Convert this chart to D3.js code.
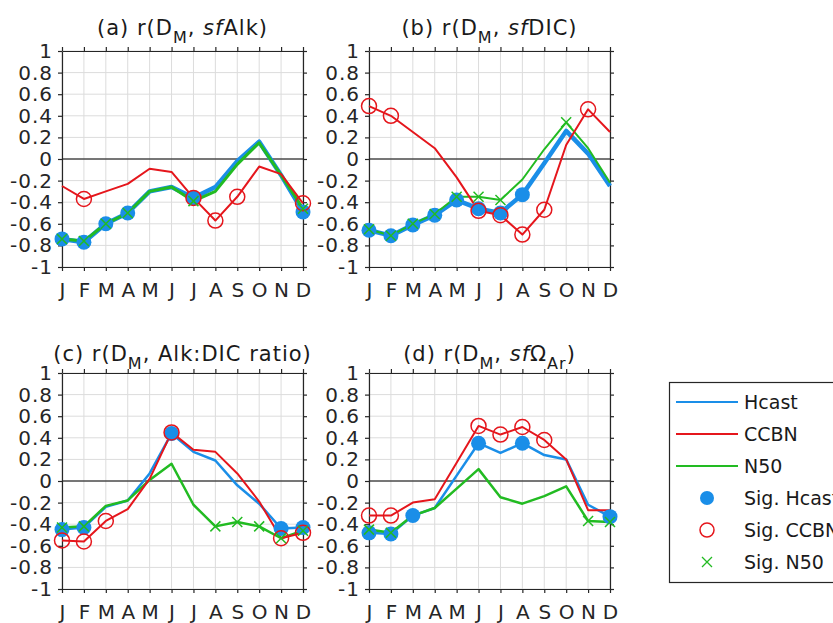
<!DOCTYPE html>
<html>
<head>
<meta charset="utf-8">
<script src="https://cdn.jsdelivr.net/npm/d3@7"></script>
<style>
  body { margin: 0; background: #fff; }
  svg { display: block; font-family: "DejaVu Sans", sans-serif; }
</style>
</head>
<body>
<div id="grafico"></div>
<script>
//------------------------------ Datos --------------
const meses = ["J", "F", "M", "A", "M", "J", "J", "A", "S", "O", "N", "D"];
const ticksY = [-1, -0.8, -0.6, -0.4, -0.2, 0, 0.2, 0.4, 0.6, 0.8, 1];
const series = ["Hcast", "CCBN", "N50"];

// (a) r(DM, sfAlk)
const hcastA = [-0.74, -0.77, -0.60, -0.50, -0.30, -0.26, -0.36, -0.26, -0.02, 0.16, -0.15, -0.49];
const ccbnA  = [-0.25, -0.37, -0.30, -0.23, -0.09, -0.12, -0.36, -0.57, -0.35, -0.07, -0.14, -0.41];
const n50A   = [-0.74, -0.76, -0.60, -0.50, -0.30, -0.26, -0.39, -0.30, -0.05, 0.15, -0.15, -0.46];
const sigHcastA = [0, 1, 2, 3, 6, 11];
const sigCcbnA  = [1, 6, 7, 8, 11];
const sigN50A   = [0, 1, 2, 3, 6, 11];

// (b) r(DM, sfDIC)
const hcastB = [-0.66, -0.71, -0.61, -0.52, -0.38, -0.46, -0.50, -0.33, -0.04, 0.26, 0.05, -0.25];
const ccbnB  = [0.49, 0.40, 0.25, 0.10, -0.17, -0.48, -0.52, -0.70, -0.47, 0.13, 0.46, 0.25];
const n50B   = [-0.65, -0.71, -0.60, -0.51, -0.35, -0.35, -0.38, -0.19, 0.09, 0.34, 0.10, -0.22];
const sigHcastB = [0, 1, 2, 3, 4, 5, 6, 7];
const sigCcbnB  = [0, 1, 5, 6, 7, 8, 10];
const sigN50B   = [0, 1, 2, 3, 4, 5, 6, 9];

// (c) r(DM, Alk:DIC ratio)
const hcastC = [-0.45, -0.43, -0.24, -0.18, 0.07, 0.44, 0.27, 0.19, -0.04, -0.21, -0.44, -0.43];
const ccbnC  = [-0.55, -0.56, -0.37, -0.26, 0.02, 0.45, 0.29, 0.27, 0.07, -0.19, -0.53, -0.48];
const n50C   = [-0.43, -0.42, -0.23, -0.18, 0.01, 0.16, -0.22, -0.42, -0.38, -0.42, -0.53, -0.46];
const sigHcastC = [0, 1, 5, 10, 11];
const sigCcbnC  = [0, 1, 2, 5, 10, 11];
const sigN50C   = [0, 1, 7, 8, 9, 10, 11];

// (d) r(DM, sfΩAr)
const hcastD = [-0.48, -0.49, -0.32, -0.25, 0.05, 0.35, 0.26, 0.35, 0.24, 0.20, -0.22, -0.33];
const ccbnD  = [-0.32, -0.32, -0.20, -0.17, 0.17, 0.51, 0.43, 0.50, 0.38, 0.20, -0.27, -0.27];
const n50D   = [-0.45, -0.48, -0.32, -0.25, -0.07, 0.11, -0.15, -0.21, -0.14, -0.05, -0.37, -0.38];
const sigHcastD = [0, 1, 2, 5, 7, 11];
const sigCcbnD  = [0, 1, 5, 6, 7, 8];
const sigN50D   = [0, 1, 10, 11];

//------------------------------ Estilos --------------
const colores = { Hcast: "#1a8ee8", CCBN: "#e5161c", N50: "#22bb22" };
const ancho = 241;
const alto = 216;

const paneles = [
  { left: 62,  top: 51,  tituloY: 35,  etiqueta: "(a)", variable: [["sf", "i"], ["Alk", ""]],
    datos: [hcastA, ccbnA, n50A], sig: [sigHcastA, sigCcbnA, sigN50A], grosor: [4.5, 2, 3] },
  { left: 369, top: 51,  tituloY: 35,  etiqueta: "(b)", variable: [["sf", "i"], ["DIC", ""]],
    datos: [hcastB, ccbnB, n50B], sig: [sigHcastB, sigCcbnB, sigN50B], grosor: [4.5, 2, 2] },
  { left: 62,  top: 373, tituloY: 361, etiqueta: "(c)", variable: [["Alk:DIC ratio", ""]],
    datos: [hcastC, ccbnC, n50C], sig: [sigHcastC, sigCcbnC, sigN50C], grosor: [2.5, 2, 2.5] },
  { left: 369, top: 373, tituloY: 361, etiqueta: "(d)", variable: [["sf", "i"], ["Ω", ""], ["Ar", "sub"]],
    datos: [hcastD, ccbnD, n50D], sig: [sigHcastD, sigCcbnD, sigN50D], grosor: [2.5, 2, 2.5] }
];

const svg = d3.select("#grafico")
  .append("svg")
  .attr("width", 833)
  .attr("height", 623);

// Titulo con subindices
function titulo(g, panel) {
  const t = g.append("text")
    .attr("x", panel.left + ancho / 2)
    .attr("y", panel.tituloY)
    .attr("text-anchor", "middle")
    .attr("font-size", 21)
    .attr("letter-spacing", 1)
    .attr("fill", "#1a1a1a");
  t.append("tspan").text(panel.etiqueta + " r(D");
  t.append("tspan").attr("font-size", 16).attr("dy", 8).text("M");
  t.append("tspan").attr("dy", -8).text(", ");
  let abajo = false;
  panel.variable.forEach(([txt, estilo]) => {
    const s = t.append("tspan").text(txt);
    if (estilo === "i") s.attr("font-style", "italic");
    if (estilo === "sub") { s.attr("font-size", 16).attr("dy", 8); abajo = true; }
  });
  t.append("tspan").attr("dy", abajo ? -8 : 0).text(")");
}

function graficar(panel) {
  const x = d3.scalePoint().domain(d3.range(12)).range([panel.left, panel.left + ancho]);
  const y = d3.scaleLinear().domain([-1, 1]).range([panel.top + alto, panel.top]);
  const g = svg.append("g");

  // rejilla
  g.selectAll(".gx").data(d3.range(12)).enter().append("line")
    .attr("x1", d => x(d)).attr("x2", d => x(d))
    .attr("y1", panel.top).attr("y2", panel.top + alto)
    .attr("stroke", "#dcdcdc").attr("stroke-width", 1);
  g.selectAll(".gy").data(ticksY).enter().append("line")
    .attr("x1", panel.left).attr("x2", panel.left + ancho)
    .attr("y1", d => y(d)).attr("y2", d => y(d))
    .attr("stroke", "#dcdcdc").attr("stroke-width", 1);

  // linea del cero
  g.append("line")
    .attr("x1", panel.left).attr("x2", panel.left + ancho)
    .attr("y1", y(0)).attr("y2", y(0))
    .attr("stroke", "#000").attr("stroke-width", 1);

  // ejes
  const fmt = d => String(d);
  const estiloEje = (sel, espacio) => {
    sel.selectAll("path").attr("stroke", "#262626").attr("stroke-width", 1.2);
    sel.selectAll("line").attr("stroke", "#262626").attr("stroke-width", 1.2);
    sel.selectAll("text").attr("fill", "#262626").attr("font-family", "DejaVu Sans")
      .attr("font-size", 20).attr("letter-spacing", espacio || 0);
  };
  g.append("g").attr("transform", `translate(${panel.left},0)`)
    .call(d3.axisLeft(y).tickValues(ticksY).tickFormat(fmt).tickSize(4).tickSizeOuter(0).tickPadding(5))
    .call(estiloEje, 1);
  g.append("g").attr("transform", `translate(${panel.left + ancho},0)`)
    .call(d3.axisRight(y).tickValues(ticksY).tickFormat("").tickSize(4).tickSizeOuter(0))
    .call(estiloEje);
  g.append("g").attr("transform", `translate(0,${panel.top + alto})`)
    .call(d3.axisBottom(x).tickFormat(i => meses[i]).tickSize(4).tickSizeOuter(0).tickPadding(11.5))
    .call(estiloEje);
  g.append("g").attr("transform", `translate(0,${panel.top})`)
    .call(d3.axisTop(x).tickFormat("").tickSize(4).tickSizeOuter(0))
    .call(estiloEje);

  // lineas de cada serie (Hcast, N50, CCBN)
  const linea = d3.line().x((d, i) => x(i)).y(d => y(d));
  [0, 2, 1].forEach(k => {
    g.append("path")
      .attr("d", linea(panel.datos[k]))
      .attr("fill", "none")
      .attr("stroke", colores[series[k]])
      .attr("stroke-width", panel.grosor[k])
      .attr("stroke-linejoin", "round");
  });

  // marcadores de significancia
  g.selectAll(".sh").data(panel.sig[0]).enter().append("circle")
    .attr("cx", i => x(i)).attr("cy", i => y(panel.datos[0][i]))
    .attr("r", 7.5).attr("fill", colores.Hcast);
  g.selectAll(".sc").data(panel.sig[1]).enter().append("circle")
    .attr("cx", i => x(i)).attr("cy", i => y(panel.datos[1][i]))
    .attr("r", 7.5).attr("fill", "none").attr("stroke", colores.CCBN).attr("stroke-width", 1.5);
  g.selectAll(".sn").data(panel.sig[2]).enter().append("path")
    .attr("transform", i => `translate(${x(i)},${y(panel.datos[2][i])})`)
    .attr("d", "M-5,-5L5,5M-5,5L5,-5")
    .attr("stroke", colores.N50).attr("stroke-width", 1.5).attr("fill", "none");

  titulo(svg, panel);
}

paneles.forEach(graficar);

//------------------------------ Leyenda --------------
const leyenda = svg.append("g");
leyenda.append("rect")
  .attr("x", 669.5).attr("y", 382.5).attr("width", 200).attr("height", 200)
  .attr("fill", "#fff").attr("stroke", "#262626").attr("stroke-width", 1.2);

const entradas = [
  { nombre: "Hcast", tipo: "linea" }, { nombre: "CCBN", tipo: "linea" }, { nombre: "N50", tipo: "linea" },
  { nombre: "Sig. Hcast", tipo: "punto", serie: "Hcast" },
  { nombre: "Sig. CCBN", tipo: "circulo", serie: "CCBN" },
  { nombre: "Sig. N50", tipo: "cruz", serie: "N50" }
];
entradas.forEach((e, i) => {
  const yy = 402 + i * 32;
  const col = colores[e.serie || e.nombre];
  if (e.tipo === "linea") {
    leyenda.append("line").attr("x1", 676).attr("x2", 738).attr("y1", yy).attr("y2", yy)
      .attr("stroke", col).attr("stroke-width", 2);
  } else if (e.tipo === "punto") {
    leyenda.append("circle").attr("cx", 707).attr("cy", yy).attr("r", 7).attr("fill", col);
  } else if (e.tipo === "circulo") {
    leyenda.append("circle").attr("cx", 707).attr("cy", yy).attr("r", 7)
      .attr("fill", "none").attr("stroke", col).attr("stroke-width", 1.5);
  } else {
    leyenda.append("path").attr("transform", `translate(707,${yy})`)
      .attr("d", "M-5,-5L5,5M-5,5L5,-5").attr("stroke", col).attr("stroke-width", 1.3);
  }
  leyenda.append("text").attr("x", 744).attr("y", yy).attr("dy", "0.35em")
    .attr("font-size", 19).attr("fill", "#1a1a1a").text(e.nombre);
});
</script>
</body>
</html>
